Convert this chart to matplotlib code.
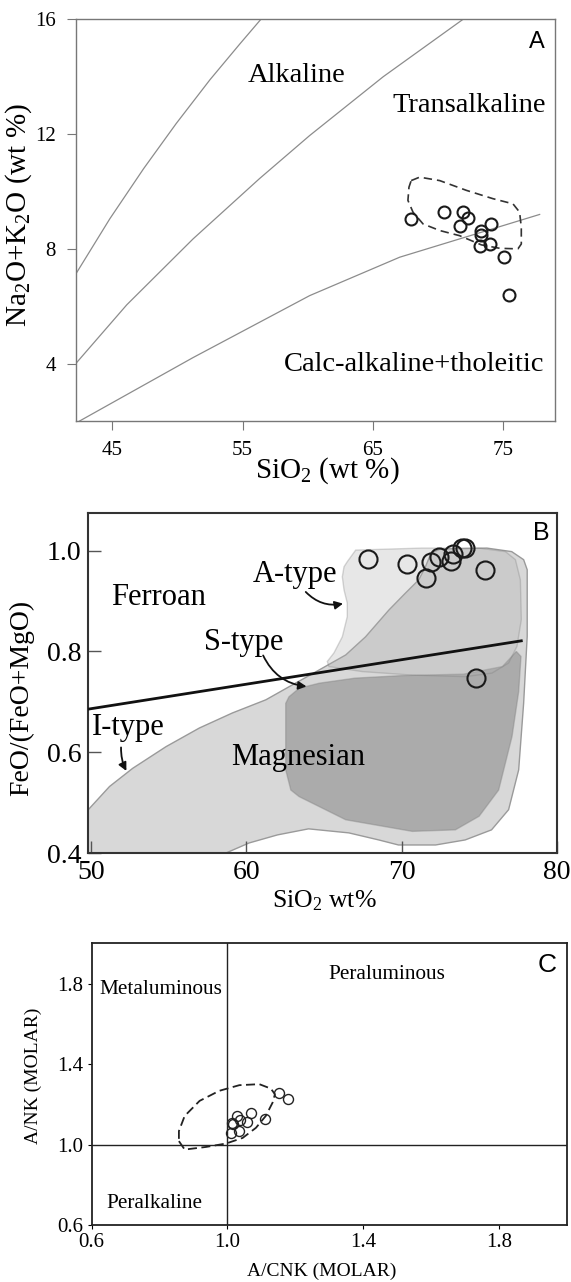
import matplotlib.pyplot as plt
from matplotlib.patches import Polygon

plt.rcParams['font.family'] = ['Liberation Serif', 'DejaVu Serif']
plt.rcParams['mathtext.fontset'] = 'custom'
plt.rcParams['mathtext.rm'] = 'Liberation Serif'
plt.rcParams['mathtext.it'] = 'Liberation Serif:italic'

# ---- panel A : total alkali vs silica
a_sio2 = [67.94, 70.45, 71.93, 72.31, 71.67, 73.34, 73.34, 74.1, 73.26, 73.98, 75.05, 75.44]
a_alk = [9.05, 9.28, 9.28, 9.08, 8.78, 8.64, 8.5, 8.85, 8.11, 8.17, 7.73, 6.4]

alk_x = [42.18, 44.8, 47.4, 49.9, 52.5, 54.8, 56.4]  # alkaline / transalkaline
alk_y = [7.12, 9.05, 10.8, 12.37, 13.9, 15.15, 16.0]
trans_x = [42.18, 46.1, 51.2, 56.3, 60.15, 65.8, 71.93]  # transalkaline boundary
trans_y = [4.0, 6.05, 8.35, 10.45, 11.95, 14.0, 16.0]
calc_x = [42.2, 51.19, 60.15, 67.07, 77.82]  # calc-alkaline boundary
calc_y = [1.93, 4.21, 6.37, 7.71, 9.2]

# dashed field in A
env_a_x = [67.95, 68.6, 70.14, 72.19, 74.23, 75.77, 76.28, 76.41, 76.41, 76.15, 74.75,
           73.34, 71.67, 70.14, 68.86, 68.09, 67.7, 67.78]
env_a_y = [10.38, 10.5, 10.38, 10.04, 9.75, 9.57, 9.28, 8.75, 8.17, 8.0, 8.02,
           8.14, 8.46, 8.64, 8.87, 9.28, 9.69, 10.15]

# ---- panel B : FeO/(FeO+MgO) vs SiO2
b_sio2 = [67.85, 70.32, 71.56, 71.87, 72.4, 73.2, 73.3, 73.9, 74.1, 75.36, 74.83]
b_fe = [0.983, 0.973, 0.945, 0.978, 0.987, 0.980, 0.993, 1.005, 1.005, 0.962, 0.748]

divide_x = [49.8, 77.72]
divide_y = [0.6855, 0.821]

itype_x = [49.0, 49.0, 49.8, 51.17, 52.66, 54.81, 56.96, 59.1, 61.25, 62.75, 64.5, 66.4,
           67.68, 69.18, 70.26, 71.11, 71.54, 71.9, 72.5, 75.5, 77.1, 77.87, 78.1, 78.1,
           77.87, 77.55, 76.9, 75.8, 74.1, 72.19, 69.8, 68.53, 66.6, 64.0, 62.0, 60.17,
           58.67, 58.0]
itype_y = [0.38, 0.48, 0.486, 0.532, 0.568, 0.611, 0.648, 0.678, 0.704, 0.73, 0.76, 0.793,
           0.829, 0.882, 0.916, 0.942, 0.968, 0.995, 1.003, 1.005, 0.998, 0.982, 0.962, 0.83,
           0.697, 0.565, 0.486, 0.446, 0.426, 0.416, 0.416, 0.426, 0.44, 0.448, 0.436, 0.42,
           0.40, 0.38]

stype_x = [62.74, 62.53, 62.53, 62.86, 63.39, 66.4, 70.69, 73.47, 75.0, 76.26, 77.12, 77.55,
           77.7, 77.4, 76.5, 74.0, 70.0, 67.0, 64.7, 63.4]
stype_y = [0.71, 0.697, 0.565, 0.525, 0.512, 0.466, 0.443, 0.446, 0.473, 0.525, 0.631, 0.72,
           0.79, 0.80, 0.77, 0.755, 0.752, 0.747, 0.737, 0.727]

atype_x = [66.5, 67.04, 71.3, 74.97, 76.7, 77.34, 77.66, 77.72, 77.44, 76.9, 75.83, 74.12,
           70.69, 67.47, 65.32, 65.21, 65.64, 66.18, 66.5, 66.5, 66.29, 66.18, 66.29]
atype_y = [0.978, 1.001, 1.005, 1.005, 0.998, 0.982, 0.942, 0.863, 0.81, 0.777, 0.757, 0.75,
           0.753, 0.76, 0.77, 0.78, 0.797, 0.829, 0.869, 0.896, 0.922, 0.948, 0.968]

# ---- panel C : A/NK vs A/CNK
c_acnk = [1.013, 1.027, 1.015, 1.037, 1.07, 1.058, 1.01, 1.033, 1.111, 1.152, 1.178]
c_ank = [1.108, 1.142, 1.10, 1.12, 1.155, 1.113, 1.055, 1.065, 1.128, 1.255, 1.228]

env_c_x = [0.857, 0.874, 0.937, 0.996, 1.045, 1.084, 1.113, 1.133, 1.14, 1.128, 1.094,
           1.035, 0.976, 0.918, 0.874, 0.857]
env_c_y = [1.017, 0.975, 0.988, 1.005, 1.033, 1.083, 1.142, 1.208, 1.25, 1.278, 1.30,
           1.295, 1.267, 1.217, 1.142, 1.067]

fig = plt.figure(figsize=(5.71, 12.82), dpi=100)

# ================= A
ax1 = fig.add_axes([0.1331, 0.6716, 0.8389, 0.3133])
ax1.plot(alk_x, alk_y, color='#8c8c8c', lw=0.9)
ax1.plot(trans_x, trans_y, color='#8c8c8c', lw=0.9)
ax1.plot(calc_x, calc_y, color='#8c8c8c', lw=0.9)
ax1.plot(env_a_x + env_a_x[:1], env_a_y + env_a_y[:1], color='#333333', lw=1.2,
         ls=(0, (5, 3)))
ax1.plot(a_sio2, a_alk, 'o', ms=8.6, mfc='none', mec='#1a1a1a', mew=1.5)
ax1.set_xlim(42.2, 79)
ax1.set_ylim(2, 16)
ax1.set_xticks([45, 55, 65, 75])
ax1.set_yticks([4, 8, 12, 16])
ax1.tick_params(direction='out', length=6.5, width=0.8, color='#777777', labelsize=15, pad=8)
for s in ax1.spines.values():
    s.set_color('#777777')
    s.set_linewidth(1)
ax1.text(55.39, 13.81, 'Alkaline', fontsize=20.5, va='baseline')
ax1.text(78.33, 12.77, 'Transalkaline', fontsize=20.5, ha='right', va='baseline')
ax1.text(78.2, 3.75, 'Calc-alkaline+tholeitic', fontsize=20.5, ha='right', va='baseline')
ax1.text(0.962, 0.944, 'A', transform=ax1.transAxes, family='Liberation Sans', fontsize=17,
         ha='center', va='center')
ax1.set_xlabel('SiO$_2$ (wt %)', fontsize=21)
ax1.xaxis.set_label_coords(0.524, -0.085)
ax1.set_ylabel('Na$_2$O+K$_2$O (wt %)', fontsize=21)
ax1.yaxis.set_label_coords(-0.088, 0.513)

# ================= B
ax2 = fig.add_axes([0.1546, 0.3346, 0.8203, 0.2654])
ax2.add_patch(Polygon(list(zip(itype_x, itype_y)), closed=True, fc='#d8d8d8', ec='#9a9a9a',
                      lw=1, zorder=1))
ax2.add_patch(Polygon(list(zip(stype_x, stype_y)), closed=True, fc='#6e6e6e', ec='#808080',
                      lw=1, alpha=0.42, zorder=2))
ax2.add_patch(Polygon(list(zip(atype_x, atype_y)), closed=True, fc='#b0b0b0', ec='#7a7a7a',
                      lw=1, alpha=0.3, zorder=3))
ax2.plot(divide_x, divide_y, color='#111111', lw=2, zorder=4)
ax2.plot(b_sio2, b_fe, 'o', ms=13, mfc='none', mec='#1a1a1a', mew=1.5, zorder=5)
ax2.set_xlim(49.8, 80)
ax2.set_ylim(0.4, 1.075)
ax2.set_xticks([50, 60, 70, 80])
ax2.set_yticks([0.4, 0.6, 0.8, 1.0])
ax2.set_yticklabels(['0.4', '0.6', '0.8', '1.0'])
ax2.tick_params(direction='in', length=9, width=1, color='#555555', labelsize=20, pad=5)
for s in ax2.spines.values():
    s.set_color('#333333')
    s.set_linewidth(1.5)
ax2.text(51.27, 0.892, 'Ferroan', fontsize=22, va='baseline', zorder=6)
ax2.text(60.39, 0.9385, 'A-type', fontsize=22, va='baseline', zorder=6)
ax2.text(57.28, 0.803, 'S-type', fontsize=22, va='baseline', zorder=6)
ax2.text(50.0, 0.6345, 'I-type', fontsize=22, va='baseline', zorder=6)
ax2.text(59.0, 0.575, 'Magnesian', fontsize=22, va='baseline', zorder=6)
arrow = dict(arrowstyle='-|>', color='#111111', lw=1.3, mutation_scale=12)
ax2.annotate('', xy=(66.4, 0.896), xytext=(63.7, 0.922),
             arrowprops=dict(arrow, connectionstyle='arc3,rad=0.3'), zorder=6)
ax2.annotate('', xy=(64.05, 0.73), xytext=(61.0, 0.797),
             arrowprops=dict(arrow, connectionstyle='arc3,rad=0.3'), zorder=6)
ax2.annotate('', xy=(52.34, 0.558), xytext=(51.92, 0.615),
             arrowprops=dict(arrow, connectionstyle='arc3,rad=0.15'), zorder=6)
ax2.text(0.968, 0.942, 'B', transform=ax2.transAxes, family='Liberation Sans', fontsize=18,
         ha='center', va='center')
ax2.set_xlabel('SiO$_2$ wt%', fontsize=18.5)
ax2.xaxis.set_label_coords(0.505, -0.103)
ax2.set_ylabel('FeO/(FeO+MgO)', fontsize=20)
ax2.yaxis.set_label_coords(-0.116, 0.455)

# ================= C
ax3 = fig.add_axes([0.1606, 0.04446, 0.8319, 0.2197])
ax3.axvline(1.0, color='#222222', lw=1)
ax3.axhline(1.0, color='#222222', lw=1)
ax3.plot(env_c_x + env_c_x[:1], env_c_y + env_c_y[:1], color='#222222', lw=1.3,
         ls=(0, (5, 2.5)))
ax3.plot(c_acnk, c_ank, 'o', ms=7.2, mfc='none', mec='#222222', mew=1)
ax3.set_xlim(0.6, 2.0)
ax3.set_ylim(0.6, 2.0)
ax3.set_xticks([0.6, 1.0, 1.4, 1.8])
ax3.set_yticks([0.6, 1.0, 1.4, 1.8])
ax3.set_xticklabels(['0.6', '1.0', '1.4', '1.8'])
ax3.set_yticklabels(['0.6', '1.0', '1.4', '1.8'])
ax3.tick_params(direction='out', length=3, width=0.8, labelsize=15, pad=3)
for s in ax3.spines.values():
    s.set_color('#222222')
    s.set_linewidth(1.3)
ax3.text(0.624, 1.75, 'Metaluminous', fontsize=15.3, va='baseline')
ax3.text(1.299, 1.825, 'Peraluminous', fontsize=15.3, va='baseline')
ax3.text(0.642, 0.6835, 'Peralkaline', fontsize=15.3, va='baseline')
ax3.text(0.9585, 0.923, 'C', transform=ax3.transAxes, family='Liberation Sans', fontsize=19,
         ha='center', va='center')
ax3.set_xlabel('A/CNK (MOLAR)', fontsize=14)
ax3.xaxis.set_label_coords(0.485, -0.135)
ax3.set_ylabel('A/NK (MOLAR)', fontsize=14)
ax3.yaxis.set_label_coords(-0.105, 0.529)

fig.savefig('out.png', dpi=100)
